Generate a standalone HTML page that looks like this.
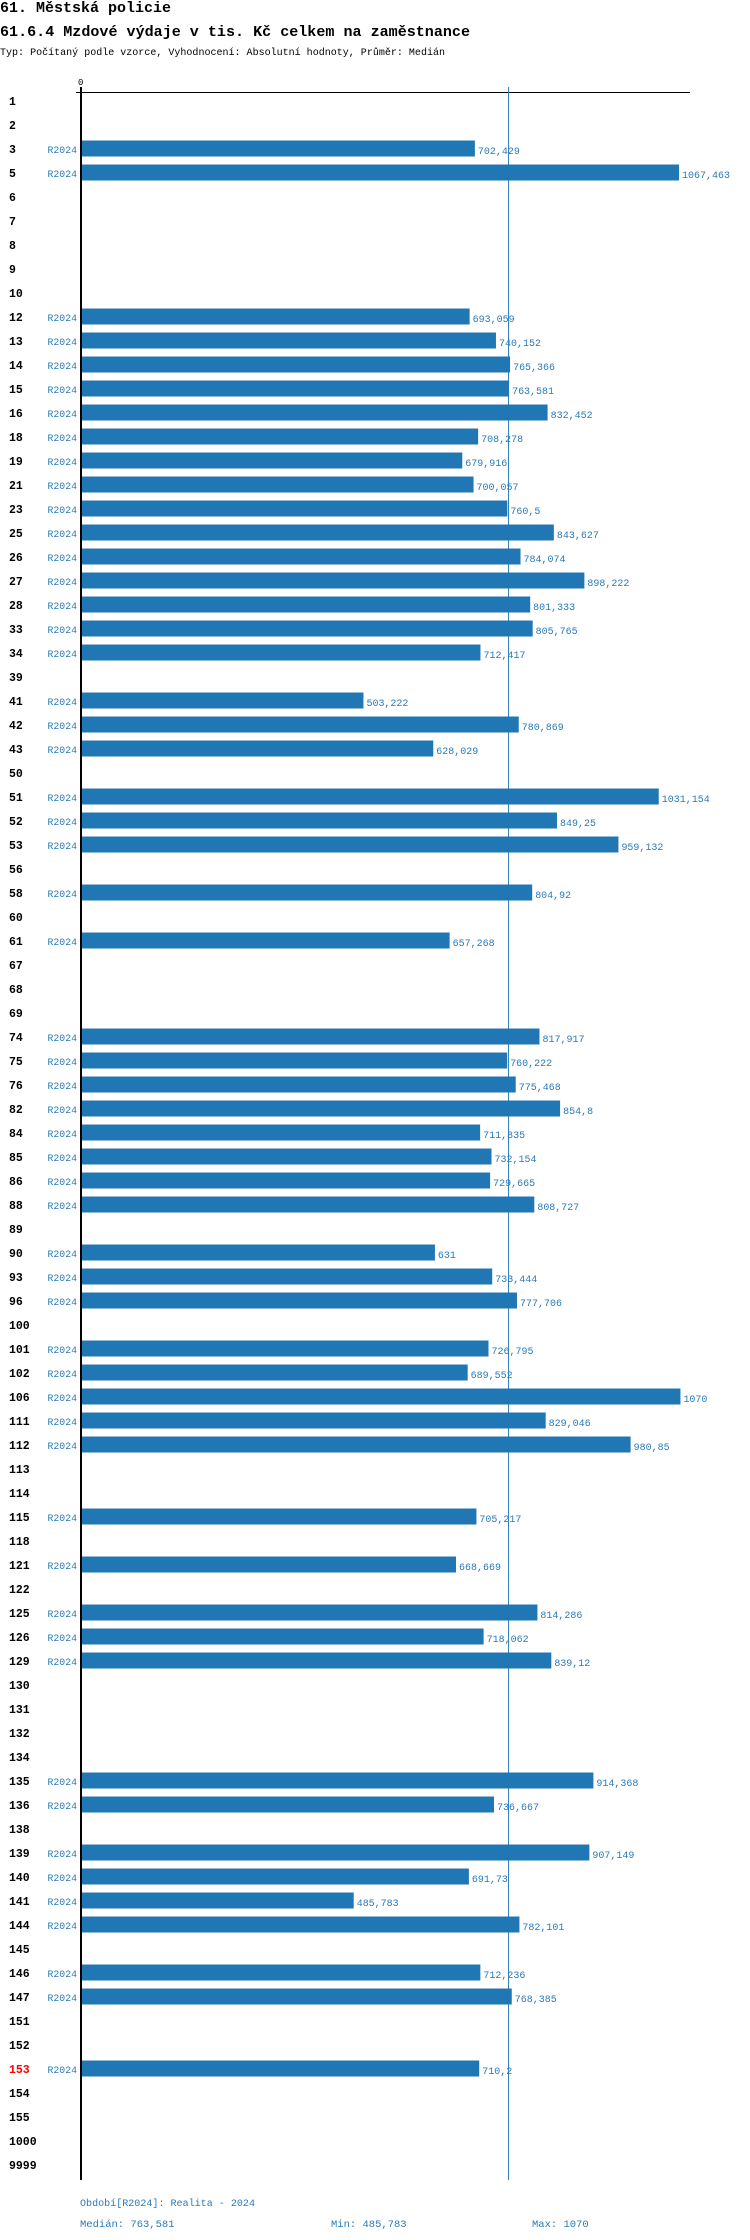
<!DOCTYPE html>
<html><head><meta charset="utf-8">
<style>
body{margin:0;background:#fff;width:750px;height:2240px;overflow:hidden;font-family:"Liberation Mono",monospace;}
svg{display:block}
</style></head>
<body>
<svg id="chart" width="750" height="2240" xmlns="http://www.w3.org/2000/svg" font-family="Liberation Mono, monospace">
<text x="0" y="12" font-size="15" font-weight="bold" textLength="171" lengthAdjust="spacingAndGlyphs">61. Městská policie</text>
<text x="0" y="36" font-size="15" font-weight="bold" textLength="470" lengthAdjust="spacingAndGlyphs">61.6.4 Mzdové výdaje v tis. Kč celkem na zaměstnance</text>
<text x="0" y="55" font-size="10.5" textLength="445" lengthAdjust="spacingAndGlyphs">Typ: Počítaný podle vzorce, Vyhodnocení: Absolutní hodnoty, Průměr: Medián</text>
<text x="78" y="85" font-size="9">0</text>
<g id="rows"></g>
<line x1="76" y1="92.5" x2="690" y2="92.5" stroke="#000" stroke-width="1"/>
<line id="medline" x1="509" y1="87" x2="509" y2="2180" stroke="#2a7ab8" stroke-width="1"/>
<g id="bars"></g>
<line x1="81" y1="87" x2="81" y2="2180" stroke="#000" stroke-width="2"/>
<text x="80" y="2206" font-size="10.5" fill="#2a7ab8" textLength="175" lengthAdjust="spacingAndGlyphs">Období[R2024]: Realita - 2024</text>
<text x="80" y="2227" font-size="10.5" fill="#2a7ab8">Medián: 763,581</text>
<text x="331" y="2227" font-size="10.5" fill="#2a7ab8">Min: 485,783</text>
<text x="532" y="2227" font-size="10.5" fill="#2a7ab8">Max: 1070</text>
</svg>
<script>
const categories=["1","2","3","5","6","7","8","9","10","12","13","14","15","16","18","19","21","23","25","26","27","28","33","34","39","41","42","43","50","51","52","53","56","58","60","61","67","68","69","74","75","76","82","84","85","86","88","89","90","93","96","100","101","102","106","111","112","113","114","115","118","121","122","125","126","129","130","131","132","134","135","136","138","139","140","141","144","145","146","147","151","152","153","154","155","1000","9999"];
const values=[null,null,702.429,1067.463,null,null,null,null,null,693.059,740.152,765.366,763.581,832.452,708.278,679.916,700.057,760.5,843.627,784.074,898.222,801.333,805.765,712.417,null,503.222,780.869,628.029,null,1031.154,849.25,959.132,null,804.92,null,657.268,null,null,null,817.917,760.222,775.468,854.8,711.835,732.154,729.665,808.727,null,631,733.444,777.706,null,726.795,689.552,1070,829.046,980.85,null,null,705.217,null,668.669,null,814.286,718.062,839.12,null,null,null,null,914.368,736.667,null,907.149,691.73,485.783,782.101,null,712.236,768.385,null,null,710.2,null,null,null,null];
const highlighted=["153"];
const medianValue=763.581;
const x0=82, k=0.5593, rowY0=101, rowStep=24;
function xs(v){return x0+v*k;}
function ys(i){return rowY0+i*rowStep;}
const NS="http://www.w3.org/2000/svg";
const rows=document.getElementById('rows'), bars=document.getElementById('bars');
const med=document.getElementById('medline');
med.setAttribute('x1',xs(medianValue)-0.5);
med.setAttribute('x2',xs(medianValue)-0.5);
function fmt(v){return String(v).replace('.',',');}
categories.forEach((c,i)=>{
  const y=ys(i);
  const t=document.createElementNS(NS,'text');
  
  
  t.setAttribute('x',9);t.setAttribute('y',y+4);
  t.setAttribute('font-size','11.5');t.setAttribute('font-weight','bold');
  t.setAttribute('fill',highlighted.includes(c)?'#ff0000':'#000');
  t.textContent=c;rows.appendChild(t);
  const v=values[i];
  if(v==null)return;
  const s=document.createElementNS(NS,'text');
  
  
  s.setAttribute('x',47.5);s.setAttribute('y',y+4);
  s.setAttribute('font-size','10.5');s.setAttribute('fill','#2a7ab8');
  s.setAttribute('textLength','29.5');s.setAttribute('lengthAdjust','spacingAndGlyphs');
  s.textContent='R2024';rows.appendChild(s);
  const r=document.createElementNS(NS,'rect');
  
  
  r.setAttribute('x',x0);r.setAttribute('y',y-8.5);
  r.setAttribute('width',xs(v)-x0);r.setAttribute('height',16);
  r.setAttribute('fill','#2077b4');bars.appendChild(r);
  const l=document.createElementNS(NS,'text');
  
  
  l.setAttribute('x',xs(v)+3);l.setAttribute('y',y+5);
  l.setAttribute('font-size','10.5');l.setAttribute('fill','#2a7ab8');
  const str=fmt(v);
  l.setAttribute('textLength',str.length*6);l.setAttribute('lengthAdjust','spacingAndGlyphs');
  l.textContent=str;bars.appendChild(l);
});
</script>
</body></html>
